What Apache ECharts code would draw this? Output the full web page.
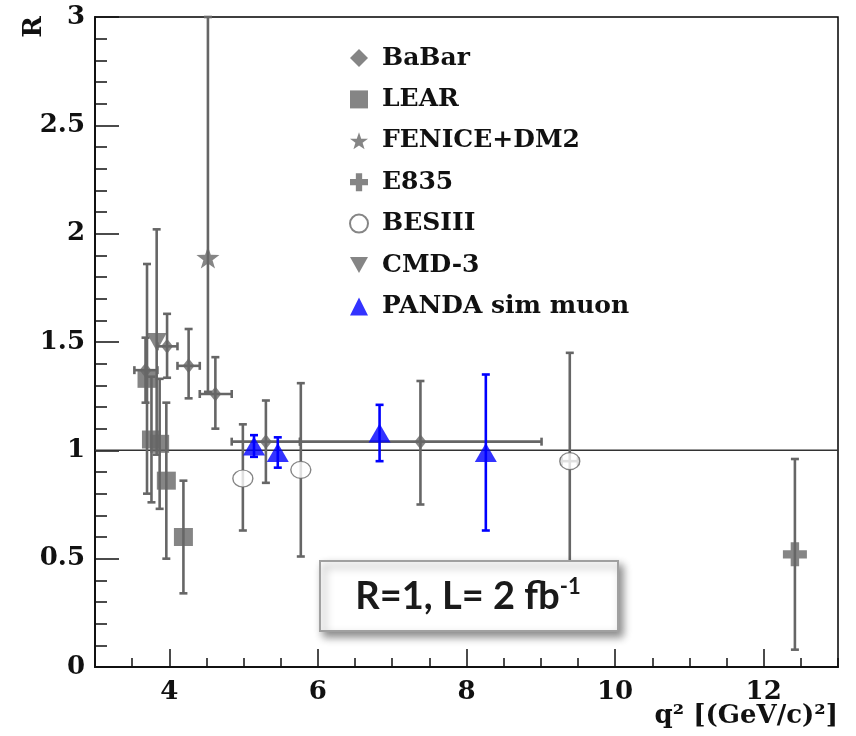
<!DOCTYPE html>
<html>
<head>
<meta charset="utf-8">
<script src="https://cdn.jsdelivr.net/npm/echarts@6/dist/echarts.min.js"></script>
<style>
  html, body { margin: 0; padding: 0; background: #fff; }
  #main { width: 856px; height: 736px; }
</style>
</head>
<body>
<div id="main"></div>
<script>
// BaBar (ISR), x error bars are the q^2 bins
var babarX = [3.68, 3.97, 4.26, 4.62, 5.30, 7.38];
var babarY = [1.37, 1.48, 1.39, 1.26, 1.04, 1.04];
var babarLo = [1.22, 1.335, 1.24, 1.10, 0.85, 0.75];
var babarHi = [1.52, 1.63, 1.56, 1.43, 1.23, 1.32];
var babarXLo = [3.53, 3.84, 4.11, 4.41, 4.84, 5.76];
var babarXHi = [3.84, 4.11, 4.41, 4.84, 5.76, 9.01];

// LEAR
var learX = [3.70, 3.76, 3.87, 3.96, 4.19];
var learY = [1.33, 1.05, 1.03, 0.86, 0.60];
var learLo = [0.80, 0.76, 0.73, 0.50, 0.34];
var learHi = [1.86, 1.34, 1.33, 1.22, 0.86];

// FENICE+DM2
var feniceX = [4.52];
var feniceY = [1.89];
var feniceLo = [1.27];
var feniceHi = [3.0];

// E835
var e835X = [12.42];
var e835Y = [0.52];
var e835Lo = [0.08];
var e835Hi = [0.96];

// BESIII
var besX = [4.99, 5.77, 9.39];
var besY = [0.87, 0.91, 0.95];
var besLo = [0.63, 0.51, 0.46];
var besHi = [1.12, 1.31, 1.45];
var besXLo = [4.99, 5.77, 9.28];
var besXHi = [4.99, 5.77, 9.50];

// CMD-3
var cmdX = [3.83];
var cmdY = [1.50];
var cmdLo = [0.98];
var cmdHi = [2.02];

// PANDA sim muon
var pandaX = [5.14, 5.46, 6.83, 8.26];
var pandaY = [1.02, 0.99, 1.08, 0.99];
var pandaLo = [0.97, 0.92, 0.95, 0.63];
var pandaHi = [1.07, 1.06, 1.21, 1.35];

// R = 1 reference line
var refX = [3, 13];
var refY = [1, 1];

var names = ['BaBar', 'LEAR', 'FENICE+DM2', 'E835', 'BESIII', 'CMD-3', 'PANDA sim muon'];

var GRAY = '#666666';
var BLUE = '#0000ff';
var SERIF = 'DejaVu Serif';
var STAR = 'path://M50,0 L61.76,33.82 L97.55,34.55 L69.02,56.18 L79.39,90.45 L50,70 L20.61,90.45 L30.98,56.18 L2.45,34.55 L38.24,33.82 Z';
var CROSS = 'path://M6.5,0H13.5V6.5H20V13.5H13.5V20H6.5V13.5H0V6.5H6.5Z';
var TRI_DOWN = 'path://M0,0H20L10,18Z';

function rows(x, y, lo, hi, xlo, xhi) {
  return x.map(function (v, i) {
    return [v, y[i], lo[i], hi[i], xlo ? xlo[i] : v, xhi ? xhi[i] : v];
  });
}

function pairs(x, y) {
  return x.map(function (v, i) { return [v, y[i]]; });
}

// error bars with small end caps
function errorBars(name, data, color) {
  return {
    name: name + ' err',
    type: 'custom',
    z: 1,
    silent: true,
    encode: { x: [0, 4, 5], y: [1, 2, 3] },
    data: data,
    renderItem: function (params, api) {
      var x = api.value(0), y = api.value(1);
      var p = api.coord([x, y]);
      var lo = api.coord([x, api.value(2)]);
      var hi = api.coord([x, api.value(3)]);
      var xl = api.coord([api.value(4), y]);
      var xh = api.coord([api.value(5), y]);
      var cap = 4;
      var segs = [
        [p[0], lo[1], p[0], hi[1]],
        [p[0] - cap, lo[1], p[0] + cap, lo[1]],
        [p[0] - cap, hi[1], p[0] + cap, hi[1]]
      ];
      if (xh[0] - xl[0] > 1) {
        segs.push([xl[0], p[1], xh[0], p[1]]);
        segs.push([xl[0], p[1] - cap, xl[0], p[1] + cap]);
        segs.push([xh[0], p[1] - cap, xh[0], p[1] + cap]);
      }
      return {
        type: 'group',
        children: segs.map(function (s) {
          return {
            type: 'line',
            shape: { x1: s[0], y1: s[1], x2: s[2], y2: s[3] },
            style: { stroke: color, lineWidth: 2.6 }
          };
        })
      };
    }
  };
}

function points(name, x, y, symbol, size, itemStyle) {
  return {
    name: name,
    type: 'scatter',
    z: 3,
    symbol: symbol,
    symbolSize: size,
    itemStyle: itemStyle,
    data: pairs(x, y)
  };
}

var chart = echarts.init(document.getElementById('main'), null, { renderer: 'canvas' });

var option = {
  animation: false,
  backgroundColor: '#fff',
  grid: {
    left: 95, right: 18, top: 17, bottom: 69,
    show: true, borderColor: '#000', borderWidth: 1.5
  },
  legend: {
    orient: 'vertical',
    left: 344,
    top: 39,
    itemWidth: 18,
    itemHeight: 18,
    itemGap: 13.4,
    selectedMode: false,
    data: names,
    textStyle: {
      fontFamily: SERIF, fontWeight: 'bold', fontSize: 25, color: '#111',
      lineHeight: 28, padding: [0, 0, 0, 9]
    }
  },
  xAxis: [{
    type: 'value', min: 3, max: 13, interval: 0.5,
    axisLine: { lineStyle: { color: '#111', width: 2 } },
    axisTick: { inside: true, length: 9, lineStyle: { color: '#111', width: 1.5 } },
    axisLabel: { show: false },
    splitLine: { show: false }
  }, {
    type: 'value', min: 3, max: 13, splitNumber: 5, position: 'bottom',
    axisLine: { show: false },
    axisTick: { inside: true, length: 18, lineStyle: { color: '#111', width: 1.5 } },
    axisLabel: {
      showMinLabel: false, showMaxLabel: false, margin: 12,
      fontFamily: SERIF, fontWeight: 'bold', fontSize: 26, color: '#111'
    },
    splitLine: { show: false }
  }],
  yAxis: {
    type: 'value', min: 0, max: 3, interval: 0.5,
    axisLine: { show: true, lineStyle: { color: '#111', width: 2 } },
    axisTick: { inside: true, length: 24, lineStyle: { color: '#111', width: 1.5 } },
    minorTick: { show: true, splitNumber: 5, length: 12, lineStyle: { color: '#111', width: 1.5 } },
    axisLabel: { margin: 10, fontFamily: SERIF, fontWeight: 'bold', fontSize: 26, color: '#111' },
    splitLine: { show: false }
  },
  series: [
    {
      name: 'R=1', type: 'line', z: 0, silent: true, symbol: 'none',
      lineStyle: { color: '#333', width: 1.5 },
      data: pairs(refX, refY)
    },
    errorBars('BaBar', rows(babarX, babarY, babarLo, babarHi, babarXLo, babarXHi), GRAY),
    errorBars('LEAR', rows(learX, learY, learLo, learHi), GRAY),
    errorBars('FENICE+DM2', rows(feniceX, feniceY, feniceLo, feniceHi), GRAY),
    errorBars('E835', rows(e835X, e835Y, e835Lo, e835Hi), GRAY),
    errorBars('BESIII', rows(besX, besY, besLo, besHi, besXLo, besXHi), GRAY),
    errorBars('CMD-3', rows(cmdX, cmdY, cmdLo, cmdHi), GRAY),
    errorBars('PANDA sim muon', rows(pandaX, pandaY, pandaLo, pandaHi), BLUE),
    points('BaBar', babarX, babarY, 'diamond', [12, 15], { color: GRAY }),
    points('LEAR', learX, learY, 'rect', [19, 18], { color: GRAY }),
    points('FENICE+DM2', feniceX, feniceY, STAR, [23, 22], { color: GRAY }),
    points('E835', e835X, e835Y, CROSS, [24, 24], { color: GRAY }),
    points('BESIII', besX, besY, 'circle', [20, 17], { color: '#fff', borderColor: GRAY, borderWidth: 1.3 }),
    points('CMD-3', cmdX, cmdY, TRI_DOWN, [20, 18], { color: GRAY }),
    points('PANDA sim muon', pandaX, pandaY, 'triangle', [22, 19], { color: BLUE })
  ],
  graphic: [
    {
      type: 'text', x: 34, y: 27, rotation: Math.PI / 2,
      style: {
        text: 'R', font: 'bold 26px "DejaVu Serif"', fill: '#111',
        textAlign: 'center', textVerticalAlign: 'middle'
      }
    },
    {
      type: 'text', x: 838, y: 716,
      style: {
        text: 'q² [(GeV/c)²]', font: 'bold 26px "DejaVu Serif"', fill: '#111',
        textAlign: 'right', textVerticalAlign: 'middle'
      }
    },
    {
      type: 'rect', z: 50,
      shape: { x: 320, y: 561, width: 298, height: 70 },
      style: {
        fill: '#fff', stroke: '#a0a0a0', lineWidth: 2,
        shadowBlur: 8, shadowOffsetX: 4, shadowOffsetY: 5, shadowColor: 'rgba(0,0,0,0.45)'
      }
    },
    {
      type: 'text', z: 51, x: 468, y: 597,
      style: {
        text: '{m|R=1, L= 2 fb}{s|-1}',
        textAlign: 'center', textVerticalAlign: 'middle',
        rich: {
          m: { fontFamily: 'Lato', fontWeight: 'bold', fontSize: 38, lineHeight: 42, fill: '#1a1a1a' },
          s: { fontFamily: 'Lato', fontWeight: 'bold', fontSize: 22, lineHeight: 26, verticalAlign: 'top', fill: '#1a1a1a' }
        }
      }
    }
  ]
};

chart.setOption(option);
</script>
</body>
</html>
